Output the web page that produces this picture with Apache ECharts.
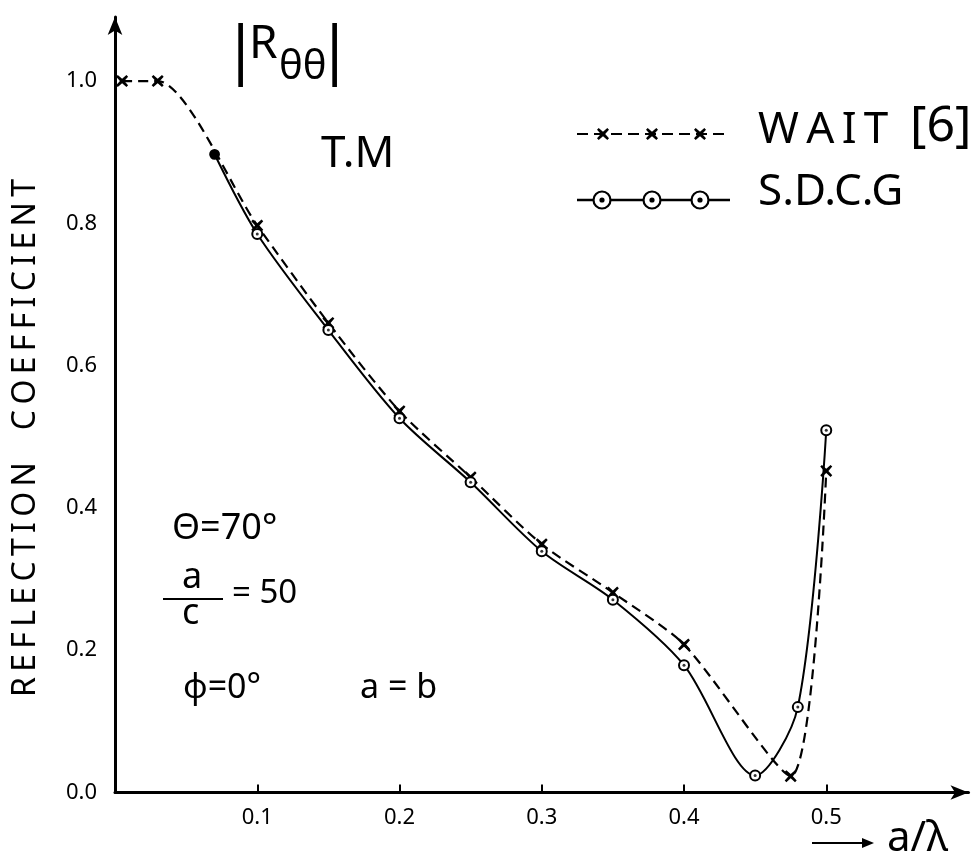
<!DOCTYPE html>
<html>
<head>
<meta charset="utf-8">
<script src="https://cdn.jsdelivr.net/npm/echarts@6/dist/echarts.min.js"></script>
<style>
  html, body { margin: 0; padding: 0; background: #fff; }
  #chart { width: 975px; height: 863px; }
</style>
</head>
<body>
<div id="chart"></div>
<script>
// |R_θθ| versus a/λ, T.M case
const waitX = [0.005, 0.03, 0.1, 0.15, 0.2, 0.25, 0.3, 0.35, 0.4, 0.475, 0.5];
const waitY = [1.0, 1.0, 0.797, 0.66, 0.536, 0.443, 0.349, 0.281, 0.208, 0.023, 0.452];
const sdcgX = [0.07, 0.1, 0.15, 0.2, 0.25, 0.3, 0.35, 0.4, 0.45, 0.48, 0.5];
const sdcgY = [0.897, 0.785, 0.65, 0.526, 0.436, 0.339, 0.271, 0.179, 0.024, 0.12, 0.509];

const xTickValues = [0.1, 0.2, 0.3, 0.4, 0.5];
const xTickLabels = ['0.1', '0.2', '0.3', '0.4', '0.5'];
const yTickValues = [0, 0.2, 0.4, 0.6, 0.8, 1.0];
const yTickLabels = ['0.0', '0.2', '0.4', '0.6', '0.8', '1.0'];

const FONT = '"Noto Sans", "DejaVu Sans", sans-serif';
const INK = '#000';
// cross outline on a 10x10 box
const CROSS_PTS = [[1.4,0],[5,3.2],[8.6,0],[10,1.4],[6.8,5],[10,8.6],[8.6,10],[5,6.8],[1.4,10],[0,8.6],[3.2,5],[0,1.4]];
const CROSS = 'path://M' + CROSS_PTS.map(p => p.join(',')).join(' L') + ' Z';

function labelFor(values, labels) {
  return function (v) {
    const i = values.findIndex(t => Math.abs(t - v) < 1e-6);
    return i >= 0 ? labels[i] : '';
  };
}

function crossAt(cx, cy, size) {
  const k = size / 10;
  return CROSS_PTS.map(p => [cx + (p[0] - 5) * k, cy + (p[1] - 5) * k]);
}

// spread lettering with thin spaces
function spaced(s) {
  return s.split('').join('\u2009');
}

const waitData = waitX.map((x, i) => [x, waitY[i]]);
const sdcgData = sdcgX.map((x, i) => {
  // the first S.D.C.G point is inked solid
  if (i === 0) return { value: [x, sdcgY[i]], symbol: 'circle', symbolSize: 9 };
  return [x, sdcgY[i]];
});
const sdcgDots = sdcgX.slice(1).map((x, i) => [x, sdcgY[i + 1]]);

const chart = echarts.init(document.getElementById('chart'), null, { renderer: 'canvas' });

const legendGraphics = [
  // WAIT [6] key: dashed line with crosses
  { type: 'line', shape: { x1: 577, y1: 134, x2: 727, y2: 134 },
    style: { stroke: INK, lineWidth: 2.2, lineDash: [11, 6] } },
  ...[603, 652, 700].map(cx => ({
    type: 'polygon', shape: { points: crossAt(cx, 134, 12) },
    style: { fill: INK }
  })),
  { type: 'text', left: 758, top: 108,
    style: { text: spaced('WAIT'), font: '44px ' + FONT, fill: INK } },
  { type: 'text', left: 910, top: 102,
    style: { text: '[6]', font: '50px ' + FONT, fill: INK } },
  // S.D.C.G key: solid line with dotted circles
  { type: 'line', shape: { x1: 577, y1: 200, x2: 730, y2: 200 },
    style: { stroke: INK, lineWidth: 2.4 } },
  ...[602, 652, 700].map(cx => ({
    type: 'circle', shape: { cx: cx, cy: 200, r: 8.5 },
    style: { fill: '#fff', stroke: INK, lineWidth: 2.2 }
  })),
  ...[602, 652, 700].map(cx => ({
    type: 'circle', shape: { cx: cx, cy: 200, r: 2.6 },
    style: { fill: INK }
  })),
  { type: 'text', left: 758, top: 170,
    style: { text: 'S.D.C.G', font: '44px ' + FONT, fill: INK } }
];

const noteGraphics = [
  // title |Rθθ|
  { type: 'text', left: 223, top: 22,
    style: { text: '|', font: '64px ' + FONT, fill: INK } },
  { type: 'text', left: 249, top: 22,
    style: { text: 'R', font: '46px ' + FONT, fill: INK } },
  { type: 'text', left: 279, top: 48,
    style: { text: 'θθ', font: '40px ' + FONT, fill: INK } },
  { type: 'text', left: 317, top: 22,
    style: { text: '|', font: '64px ' + FONT, fill: INK } },
  { type: 'text', left: 321, top: 132,
    style: { text: 'T.M', font: '44px ' + FONT, fill: INK } },
  // parameters
  { type: 'text', left: 172, top: 511,
    style: { text: 'Θ=70°', font: '36px ' + FONT, fill: INK } },
  { type: 'text', left: 182, top: 560,
    style: { text: 'a', font: '36px ' + FONT, fill: INK } },
  { type: 'line', shape: { x1: 163, y1: 599, x2: 223, y2: 599 },
    style: { stroke: INK, lineWidth: 2.2 } },
  { type: 'text', left: 182, top: 596,
    style: { text: 'c', font: '36px ' + FONT, fill: INK } },
  { type: 'text', left: 232, top: 577,
    style: { text: '= 50', font: '33px ' + FONT, fill: INK } },
  { type: 'text', left: 183, top: 671,
    style: { text: 'φ=0°', font: '34px ' + FONT, fill: INK } },
  { type: 'text', left: 360, top: 671,
    style: { text: 'a = b', font: '34px ' + FONT, fill: INK } },
  // y axis title
  { type: 'text', x: 26, y: 438, rotation: Math.PI / 2,
    style: { text: spaced('REFLECTION') + '\u2002\u2002' + spaced('COEFFICIENT'),
             font: '32px ' + FONT, fill: INK, align: 'center', verticalAlign: 'middle' } },
  // x axis title with arrow
  { type: 'line', shape: { x1: 812, y1: 843, x2: 866, y2: 843 },
    style: { stroke: INK, lineWidth: 2 } },
  { type: 'polygon', shape: { points: [[874, 843], [862, 838], [862, 848]] },
    style: { fill: INK } },
  { type: 'text', left: 887, top: 818,
    style: { text: 'a/λ', font: '42px ' + FONT, fill: INK } }
];

const option = {
  backgroundColor: '#fff',
  animation: false,
  grid: { left: 115, right: 6.5, top: 17, bottom: 70.5, containLabel: false },
  xAxis: {
    type: 'value', min: 0, max: 0.6, interval: 0.1,
    splitLine: { show: false },
    axisLine: { show: true, lineStyle: { color: INK, width: 3 },
                symbol: ['none', 'arrow'], symbolSize: [11, 18] },
    axisTick: { show: true, inside: true, length: 8, customValues: xTickValues,
                lineStyle: { color: INK, width: 2 } },
    axisLabel: { customValues: xTickValues, formatter: labelFor(xTickValues, xTickLabels),
                 color: INK, fontSize: 22, fontFamily: FONT, margin: 14 }
  },
  yAxis: {
    type: 'value', min: 0, max: 1.09, interval: 0.2,
    splitLine: { show: false },
    axisLine: { show: true, lineStyle: { color: INK, width: 3 },
                symbol: ['none', 'arrow'], symbolSize: [11, 18] },
    axisTick: { show: false },
    axisLabel: { customValues: yTickValues, formatter: labelFor(yTickValues, yTickLabels),
                 color: INK, fontSize: 22, fontFamily: FONT, margin: 18 }
  },
  series: [
    {
      name: 'WAIT [6]', type: 'line', data: waitData, smooth: 0.25,
      symbol: CROSS, symbolSize: 12,
      lineStyle: { color: INK, width: 2.2, type: [10, 6] },
      itemStyle: { color: INK }, z: 3
    },
    {
      name: 'S.D.C.G', type: 'line', data: sdcgData, smooth: 0.3,
      symbol: 'emptyCircle', symbolSize: 10,
      lineStyle: { color: INK, width: 2 },
      itemStyle: { color: INK, borderColor: INK, borderWidth: 1.8 }, z: 4
    },
    {
      name: 'S.D.C.G centres', type: 'scatter', data: sdcgDots,
      symbol: 'circle', symbolSize: 3, itemStyle: { color: INK }, z: 5,
      silent: true
    }
  ],
  graphic: legendGraphics.concat(noteGraphics)
};

chart.setOption(option);
</script>
</body>
</html>
